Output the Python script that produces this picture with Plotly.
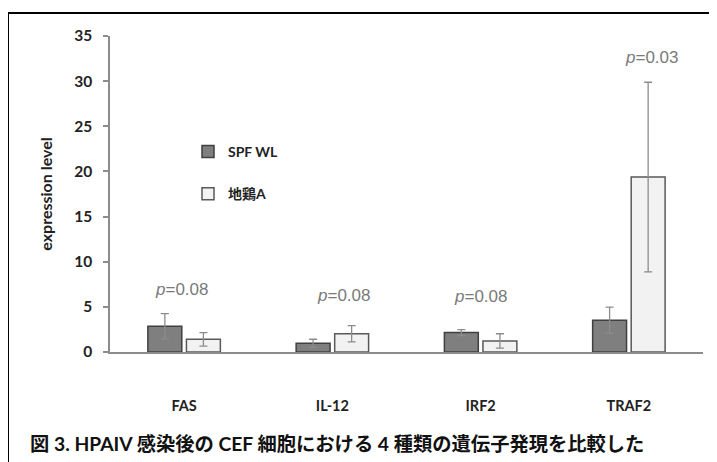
import plotly.graph_objects as go

categories = ["FAS", "IL-12", "IRF2", "TRAF2"]
spf_values = [2.85, 0.96, 2.15, 3.51]
spf_errors = [1.40, 0.45, 0.33, 1.45]
jidori_values = [1.40, 2.03, 1.22, 19.38]
jidori_errors = [0.75, 0.90, 0.80, 10.50]
p_labels = ["0.08", "0.08", "0.08", "0.03"]
p_label_y = [6.9, 6.3, 6.2, 32.6]
p_label_shift = [-3, 11, 0, 23]
y_ticks = [0, 5, 10, 15, 20, 25, 30, 35]
caption = "図 3. HPAIV 感染後の CEF 細胞における 4 種類の遺伝子発現を比較した"

# page body adds an 8px offset; positions below are page pixels minus that offset
OFF = 8
W, H = 717, 462
L, R, T, B = 110 - OFF, 22, 36 - OFF, 118
PW, PH = W - L - R, H - T - B


def px(x):
    return (x - OFF - L) / PW


def py(y):
    return (H - B - (y - OFF)) / PH


FONT = "Lato, 'Noto Sans CJK JP', sans-serif"

fig = go.Figure()
fig.add_trace(go.Bar(
    name="SPF WL", x=categories, y=spf_values, legendgroup="a",
    marker=dict(color="#7f7f7f", line=dict(color="#404040", width=1.5)),
    error_y=dict(type="data", array=spf_errors, color="#8c8c8c", thickness=1.3, width=4),
))
fig.add_trace(go.Bar(
    name="地鶏A", x=categories, y=jidori_values, legendgroup="b",
    marker=dict(color="#f2f2f2", line=dict(color="#595959", width=1.5)),
    error_y=dict(type="data", array=jidori_errors, color="#8c8c8c", thickness=1.3, width=4),
))

for c, lab, yy, sh in zip(categories, p_labels, p_label_y, p_label_shift):
    fig.add_annotation(x=c, y=yy, xshift=sh, text="<i>p</i>=" + lab, showarrow=False,
                       font=dict(family="'Liberation Sans', Arial, sans-serif", size=17, color="#7a7a7a"))

fig.add_annotation(xref="paper", yref="paper", x=px(28), y=py(443), xanchor="left", yanchor="middle",
                   text="<b>" + caption + "</b>", showarrow=False,
                   font=dict(family=FONT, size=19.3, color="#111111"))

fig.add_shape(type="rect", xref="paper", yref="paper", x0=px(8), x1=px(740), y0=py(13), y1=py(490),
              line=dict(color="black", width=2), fillcolor="rgba(0,0,0,0)", layer="above")

fig.update_layout(
    width=W, height=H,
    margin=dict(l=L, r=R, t=T, b=B, pad=0),
    paper_bgcolor="white", plot_bgcolor="white",
    barmode="group", bargap=0.48, bargroupgap=0.12,
    font=dict(family=FONT, size=14, color="#222222"),
    showlegend=True,
    legend=dict(x=px(188), y=py(136), xanchor="left", yanchor="top",
                traceorder="grouped", tracegroupgap=21, itemwidth=30,
                font=dict(family=FONT, size=14, color="#222222", weight="bold"),
                bgcolor="rgba(0,0,0,0)"),
    xaxis=dict(showline=True, linecolor="#8c8c8c", linewidth=1.5, ticks="",
               showgrid=False, zeroline=False, ticklabelstandoff=40,
               tickfont=dict(family=FONT, size=14.5, color="#222222", weight="bold")),
    yaxis=dict(range=[0, 35], tickvals=y_ticks, showline=True, linecolor="#8c8c8c", linewidth=1.5,
               ticks="outside", ticklen=5, tickcolor="#8c8c8c", tickwidth=1.5,
               showgrid=False, zeroline=False, ticklabelstandoff=8,
               tickfont=dict(family=FONT, size=15.5, color="#222222", weight="bold"),
               title=dict(text="expression level", standoff=18,
                          font=dict(family=FONT, size=16, color="#222222", weight="bold"))),
)

fig.write_html("out.html")
